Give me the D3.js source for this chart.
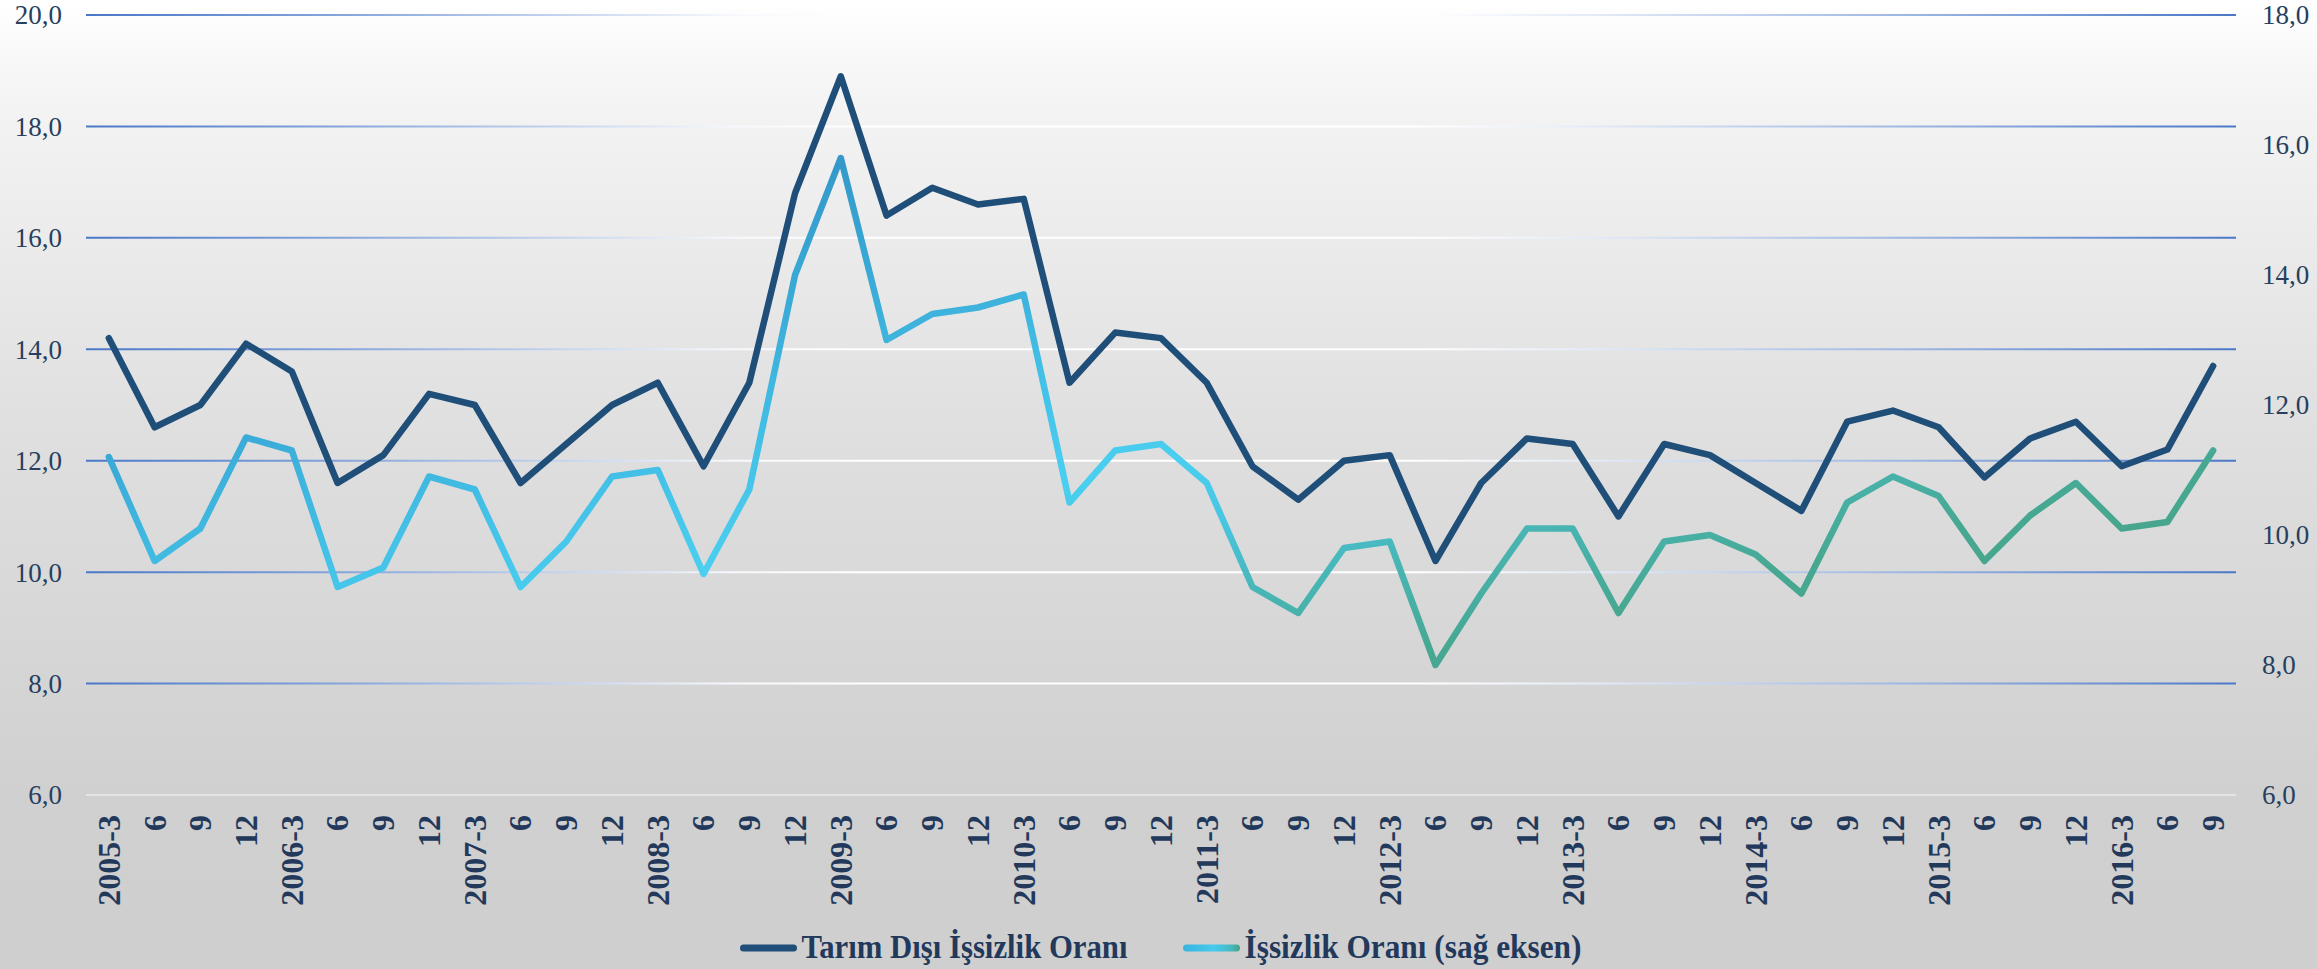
<!DOCTYPE html>
<html>
<head>
<meta charset="utf-8">
<script src="https://cdn.jsdelivr.net/npm/d3@7"></script>
<style>
  html, body { margin: 0; padding: 0; background: #ffffff; }
  svg { display: block; }
</style>
</head>
<body>
<svg id="chart" width="2317" height="969"></svg>
<script>
// ---------------- DATA ----------------
const periods = [
  "2005-3","2005-6","2005-9","2005-12",
  "2006-3","2006-6","2006-9","2006-12",
  "2007-3","2007-6","2007-9","2007-12",
  "2008-3","2008-6","2008-9","2008-12",
  "2009-3","2009-6","2009-9","2009-12",
  "2010-3","2010-6","2010-9","2010-12",
  "2011-3","2011-6","2011-9","2011-12",
  "2012-3","2012-6","2012-9","2012-12",
  "2013-3","2013-6","2013-9","2013-12",
  "2014-3","2014-6","2014-9","2014-12",
  "2015-3","2015-6","2015-9","2015-12",
  "2016-3","2016-6","2016-9"
];
const tickLabels = [
  "2005-3","6","9","12",
  "2006-3","6","9","12",
  "2007-3","6","9","12",
  "2008-3","6","9","12",
  "2009-3","6","9","12",
  "2010-3","6","9","12",
  "2011-3","6","9","12",
  "2012-3","6","9","12",
  "2013-3","6","9","12",
  "2014-3","6","9","12",
  "2015-3","6","9","12",
  "2016-3","6","9"
];
// Tarım Dışı İşsizlik Oranı (left axis)
const tarimDisi = [
  14.2,12.6,13.0,14.1,
  13.6,11.6,12.1,13.2,
  13.0,11.6,12.3,13.0,
  13.4,11.9,13.4,16.8,
  18.9,16.4,16.9,16.6,
  16.7,13.4,14.3,14.2,
  13.4,11.9,11.3,12.0,
  12.1,10.2,11.6,12.4,
  12.3,11.0,12.3,12.1,
  11.6,11.1,12.7,12.9,
  12.6,11.7,12.4,12.7,
  11.9,12.2,13.7
];
// İşsizlik Oranı (right axis)
const issizlik = [
  11.2,9.6,10.1,11.5,
  11.3,9.2,9.5,10.9,
  10.7,9.2,9.9,10.9,
  11.0,9.4,10.7,14.0,
  15.8,13.0,13.4,13.5,
  13.7,10.5,11.3,11.4,
  10.8,9.2,8.8,9.8,
  9.9,8.0,9.1,10.1,
  10.1,8.8,9.9,10.0,
  9.7,9.1,10.5,10.9,
  10.6,9.6,10.3,10.8,
  10.1,10.2,11.3
];
const leftTicks = [6,8,10,12,14,16,18,20];
const rightTicks = [6,8,10,12,14,16,18];
const seriesNames = ["Tarım Dışı İşsizlik Oranı", "İşsizlik Oranı (sağ eksen)"];

// ---------------- LAYOUT ----------------
const W = 2317, H = 969;
const plot = { left: 86, right: 2236, top: 15, bottom: 795 };
const svg = d3.select("#chart");
const defs = svg.append("defs");

// background gradient
const bg = defs.append("linearGradient").attr("id", "bgGrad")
  .attr("x1", 0).attr("y1", 0).attr("x2", 0).attr("y2", 1);
[[0, "#ffffff"], [0.1, "#f4f4f4"], [0.45, "#dfdfdf"], [0.82, "#d0d0d0"], [1, "#cfcfcf"]]
  .forEach(([o, c]) => bg.append("stop").attr("offset", o).attr("stop-color", c));
svg.append("rect").attr("width", W).attr("height", H).attr("fill", "url(#bgGrad)");

// scales
const x = d3.scaleBand().domain(periods).range([plot.left, plot.right]).padding(0);
const xc = d => x(d) + x.bandwidth() / 2;
const yL = d3.scaleLinear().domain([6, 20]).range([plot.bottom, plot.top]);
const yR = d3.scaleLinear().domain([6, 18]).range([plot.bottom, plot.top]);
const fmt = v => d3.format(".1f")(v).replace(".", ",");

// gridline gradient (blue at ends, white in the middle)
const gg = defs.append("linearGradient").attr("id", "gridGrad")
  .attr("gradientUnits", "userSpaceOnUse")
  .attr("x1", x.range()[0]).attr("x2", x.range()[1]).attr("y1", 0).attr("y2", 0);
[[0, "#4a78c8"], [0.12, "#86a6dc"], [0.3, "#f6f8fc"], [0.36, "#ffffff"],
 [0.62, "#ffffff"], [0.7, "#e4ebf7"], [0.85, "#9cb6e2"], [1, "#4a78c8"]]
  .forEach(([o, c]) => gg.append("stop").attr("offset", o).attr("stop-color", c));

svg.append("g").selectAll("line")
  .data(leftTicks.filter(t => t > 6))
  .join("line")
  .attr("x1", x.range()[0]).attr("x2", x.range()[1])
  .attr("y1", d => yL(d)).attr("y2", d => yL(d))
  .attr("stroke", "url(#gridGrad)").attr("stroke-width", 2);

// bottom axis line
svg.append("line")
  .attr("x1", x.range()[0]).attr("x2", x.range()[1])
  .attr("y1", yL(6)).attr("y2", yL(6))
  .attr("stroke", "#e4e4e4").attr("stroke-width", 2);

// left axis labels
svg.append("g").selectAll("text")
  .data(leftTicks).join("text")
  .attr("x", 62).attr("y", d => yL(d)).attr("dy", "0.35em")
  .attr("text-anchor", "end")
  .attr("font-family", "Liberation Serif, serif").attr("font-size", 27)
  .attr("fill", "#283f5e")
  .text(d => fmt(d));

// right axis labels
svg.append("g").selectAll("text")
  .data(rightTicks).join("text")
  .attr("x", 2262).attr("y", d => yR(d)).attr("dy", "0.35em")
  .attr("text-anchor", "start")
  .attr("font-family", "Liberation Serif, serif").attr("font-size", 27)
  .attr("fill", "#283f5e")
  .text(d => fmt(d));

// x axis labels (rotated)
svg.append("g").selectAll("text")
  .data(periods).join("text")
  .attr("transform", d => `translate(${xc(d)},815) rotate(-90)`)
  .attr("dy", "0.34em")
  .attr("text-anchor", "end")
  .attr("font-family", "Liberation Serif, serif").attr("font-weight", "bold").attr("font-size", 32)
  .attr("fill", "#22395c")
  .text((d, i) => tickLabels[i]);

// series 2 gradient
const lg = defs.append("linearGradient").attr("id", "cyanGrad")
  .attr("x1", 0).attr("y1", 0).attr("x2", 1).attr("y2", 1);
[[0, "#2e8ec0"], [0.18, "#3499c9"], [0.3, "#3aaad6"], [0.45, "#44c2e8"], [0.55, "#4acff0"],
 [0.62, "#48c6e2"], [0.7, "#48b6b6"], [0.8, "#47a892"], [1, "#46a07c"]]
  .forEach(([o, c]) => lg.append("stop").attr("offset", o).attr("stop-color", c));

// lines
const lineL = d3.line().x((d, i) => xc(periods[i])).y(d => yL(d));
const lineR = d3.line().x((d, i) => xc(periods[i])).y(d => yR(d));

svg.append("path").datum(tarimDisi)
  .attr("d", lineL).attr("fill", "none")
  .attr("stroke", "#1f4e79").attr("stroke-width", 6.5)
  .attr("stroke-linejoin", "round").attr("stroke-linecap", "round");

svg.append("path").datum(issizlik)
  .attr("d", lineR).attr("fill", "none")
  .attr("stroke", "url(#cyanGrad)").attr("stroke-width", 6.5)
  .attr("stroke-linejoin", "round").attr("stroke-linecap", "round");

// legend
const legendItems = [
  { name: seriesNames[0], stroke: "#1f4e79", width: 326 },
  { name: seriesNames[1], stroke: "url(#legGrad)", width: 337 }
];
const swatch = 56, gapText = 5, gapItem = 56;
const totalW = d3.sum(legendItems, d => swatch + gapText + d.width) + gapItem * (legendItems.length - 1);
let lx = (plot.left + plot.right) / 2 - totalW / 2;
const ly = 948;
const lgG = svg.append("g");
legendItems.forEach((item, k) => {
  if (k === 1) {
    const lg2 = defs.append("linearGradient").attr("id", "legGrad")
      .attr("gradientUnits", "userSpaceOnUse")
      .attr("x1", lx).attr("x2", lx + swatch).attr("y1", 0).attr("y2", 0);
    [[0, "#38b4de"], [0.55, "#46cbee"], [0.85, "#47b8c0"], [1, "#47a585"]]
      .forEach(([o, c]) => lg2.append("stop").attr("offset", o).attr("stop-color", c));
  }
  lgG.append("line")
    .attr("x1", lx + 3).attr("x2", lx + swatch - 3)
    .attr("y1", ly).attr("y2", ly)
    .attr("stroke", item.stroke).attr("stroke-width", 7).attr("stroke-linecap", "round");
  lgG.append("text")
    .attr("x", lx + swatch + gapText).attr("y", ly + 10)
    .attr("font-family", "Liberation Serif, serif").attr("font-weight", "bold").attr("font-size", 33)
    .attr("fill", "#22395c")
    .attr("textLength", item.width).attr("lengthAdjust", "spacingAndGlyphs")
    .text(item.name);
  lx += swatch + gapText + item.width + gapItem;
});
</script>
</body>
</html>
